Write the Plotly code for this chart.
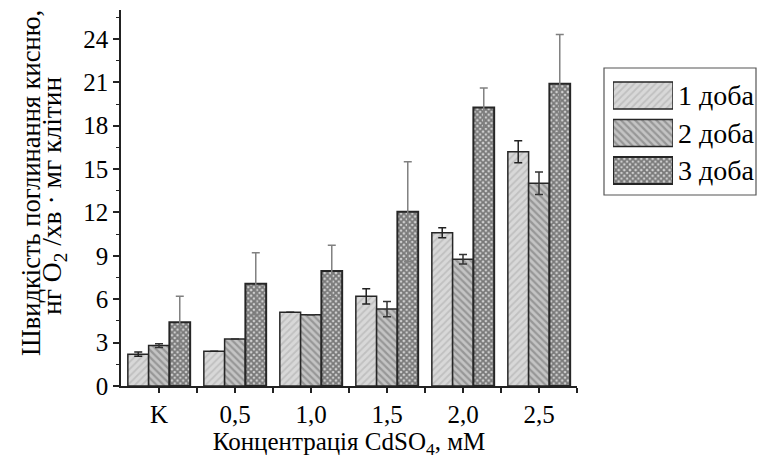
import plotly.graph_objects as go

categories = ["K", "0,5", "1,0", "1,5", "2,0", "2,5"]
series_names = ["1 доба", "2 доба", "3 доба"]
day1 = [2.2, 2.4, 5.1, 6.2, 10.6, 16.2]
day1_err = [0.15, 0.0, 0.0, 0.53, 0.35, 0.76]
day2 = [2.8, 3.25, 4.93, 5.32, 8.76, 14.02]
day2_err = [0.13, 0.0, 0.0, 0.53, 0.33, 0.78]
day3 = [4.4, 7.07, 7.95, 12.05, 19.25, 20.9]
day3_err = [1.8, 2.15, 1.78, 3.45, 1.35, 3.4]
y_ticks = [0, 3, 6, 9, 12, 15, 18, 21, 24]

FONT = "Liberation Serif, Times New Roman, serif"
W, H = 757, 467
ML, MT, MB = 121, 10, 81
plot_w = W - ML
plot_h = H - MT - MB
main_dom = 456 / plot_w

patterns = [
    dict(shape="/", bgcolor="#d8d8d8", fgcolor="#a8a8a8", size=5, solidity=0.35),
    dict(shape="\\", bgcolor="#c4c4c4", fgcolor="#6a6a6a", size=5, solidity=0.45),
    dict(shape="x", bgcolor="#d2d2d2", fgcolor="#1e1e1e", size=4, solidity=0.7),
]
err_colors = ["#222222", "#333333", "#808080"]
line_w = [1.5, 1.5, 2]

xs = list(range(len(categories)))
vals = [day1, day2, day3]
errs = [day1_err, day2_err, day3_err]

fig = go.Figure()
for i in range(3):
    fig.add_trace(go.Bar(
        x=xs, y=vals[i], name=series_names[i],
        marker=dict(color=patterns[i]["bgcolor"], pattern=patterns[i],
                    line=dict(color="#262626", width=line_w[i])),
        error_y=dict(type="data", array=errs[i], visible=True,
                     color=err_colors[i], thickness=1.5, width=4),
        showlegend=False, xaxis="x", yaxis="y",
    ))

# custom legend swatches (large patterned boxes)
for i in range(3):
    fig.add_trace(go.Bar(
        x=[1], y=[i], orientation="h", width=0.72,
        marker=dict(color=patterns[i]["bgcolor"], pattern=patterns[i],
                    line=dict(color="#262626", width=line_w[i])),
        showlegend=False, hoverinfo="skip", xaxis="x2", yaxis="y2",
    ))

def px_x(p):
    return (p - ML) / plot_w

def px_y(p):
    return (MT + plot_h - p) / plot_h

fig.update_layout(
    width=W, height=H,
    margin=dict(l=ML, r=0, t=MT, b=MB),
    paper_bgcolor="white", plot_bgcolor="white",
    barmode="group", bargap=0.18, bargroupgap=0,
    font=dict(family=FONT, color="black", size=24),
    xaxis=dict(
        domain=[0, main_dom], range=[-0.5, 5.5],
        tickvals=xs, ticktext=categories,
        showline=True, linecolor="#222", linewidth=1.5,
        ticks="outside", ticklen=5, tickwidth=1.5, tickcolor="#222",
        minor=dict(tickvals=[0.5, 1.5, 2.5, 3.5, 4.5, 5.5], ticks="outside",
                   ticklen=5, tickwidth=1.5, tickcolor="#222"),
        showgrid=False, zeroline=False,
        tickfont=dict(family=FONT, size=25),
        title=dict(text="Концентрація CdSO<sub>4</sub>, мМ",
                   font=dict(family=FONT, size=25), standoff=0),
    ),
    yaxis=dict(
        domain=[0, 1], range=[0, 26],
        tickvals=y_ticks,
        showline=True, linecolor="#222", linewidth=1.5,
        ticks="outside", ticklen=6, tickwidth=1.5, tickcolor="#222",
        minor=dict(dtick=1.5, tick0=0, ticks="outside", ticklen=3,
                   tickwidth=1.2, tickcolor="#222"),
        showgrid=False, zeroline=False,
        tickfont=dict(family=FONT, size=25),
    ),
    xaxis2=dict(domain=[px_x(613), px_x(673)], range=[0, 1], anchor="y2",
                visible=False, fixedrange=True),
    yaxis2=dict(domain=[px_y(189.25), px_y(76.75)], range=[2.5, -0.5],
                anchor="x2", visible=False, fixedrange=True),
)

# legend frame
fig.add_shape(type="rect", xref="paper", yref="paper",
              x0=px_x(604), x1=px_x(756), y0=px_y(195), y1=px_y(68),
              line=dict(color="#555", width=1.2), fillcolor="rgba(0,0,0,0)",
              layer="below")
for i, name in enumerate(series_names):
    fig.add_annotation(x=px_x(676), xref="paper", y=i, yref="y2",
                       text=name, showarrow=False, xanchor="left",
                       yanchor="middle", font=dict(family=FONT, size=28))

# y-axis title as two tightly spaced lines
fig.add_annotation(text="Швидкість поглинання кисню,", xref="paper", yref="paper",
                   x=px_x(31), y=px_y(183), textangle=-90, showarrow=False,
                   xanchor="center", yanchor="middle",
                   font=dict(family=FONT, size=26.5))
fig.add_annotation(text="нг O<sub>2</sub> /хв · мг клітин", xref="paper", yref="paper",
                   x=px_x(53), y=px_y(196), textangle=-90, showarrow=False,
                   xanchor="center", yanchor="middle",
                   font=dict(family=FONT, size=27.5))

fig.write_html("out.html", config={"displayModeBar": False},
               post_script="document.body.style.margin='0';")
